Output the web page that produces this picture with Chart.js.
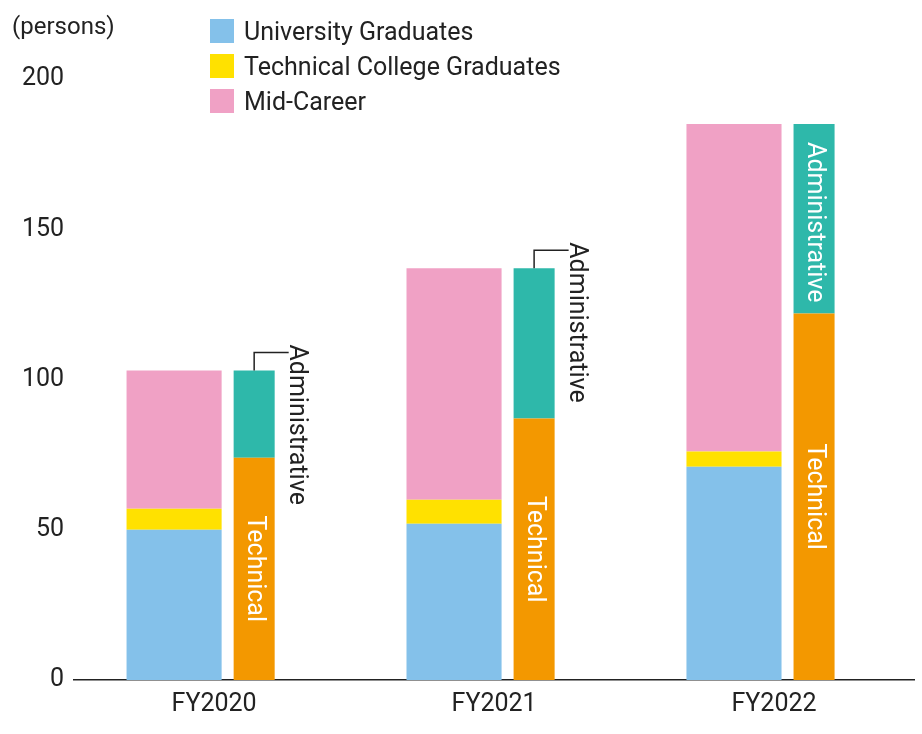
<!DOCTYPE html>
<html>
<head>
<meta charset="utf-8">
<script src="https://cdn.jsdelivr.net/npm/chart.js@4"></script>
<style>
  body { margin: 0; background: #fff; font-family: Roboto, sans-serif; }
  #wrap { position: relative; width: 922px; height: 734px; }
  #unit { position: absolute; left: 12px; top: 12px; font-size: 24px; color: #222; }
  #legend { position: absolute; left: 210px; top: 14px; font-size: 25px; color: #222; line-height: 35px; }
  #legend span.box { display: inline-block; width: 24px; height: 24px; margin-right: 10px; vertical-align: -3px; }
</style>
</head>
<body>
<div id="wrap">
  <canvas id="hires" width="922" height="734"></canvas>
  <div id="unit">(persons)</div>
  <div id="legend">
    <div><span class="box" style="background:#84c1ea"></span>University Graduates</div>
    <div><span class="box" style="background:#ffe100"></span>Technical College Graduates</div>
    <div><span class="box" style="background:#f0a1c5"></span>Mid-Career</div>
  </div>
</div>
<script>
const years = ['FY2020', 'FY2021', 'FY2022'];
const university = [50, 52, 71];
const techCollege = [7, 8, 5];
const midCareer = [46, 77, 109];
const technical = [74, 87, 122];
const administrative = [29, 50, 63];
const yTicks = [0, 50, 100, 150, 200];

const ctx = document.getElementById('hires');

// vertical labels on the job-type bars
const barText = {
  id: 'barText',
  afterDatasetsDraw(chart) {
    const c = chart.ctx;
    const techMeta = chart.getDatasetMeta(3);
    const adminMeta = chart.getDatasetMeta(4);
    c.save();
    c.font = '25px Roboto, sans-serif';
    c.textBaseline = 'middle';
    techMeta.data.forEach(function(bar) {
      c.save();
      c.translate(bar.x, (bar.y + bar.base) / 2);
      c.rotate(Math.PI / 2);
      c.fillStyle = '#fff';
      c.textAlign = 'center';
      c.fillText('Technical', 0, 0);
      c.restore();
    });
    adminMeta.data.forEach(function(bar, i) {
      const inside = i === adminMeta.data.length - 1;
      c.save();
      if (inside) {
        c.translate(bar.x, bar.y + 18);
        c.fillStyle = '#fff';
      } else {
        const lx = bar.x + bar.width / 2 + 22;
        c.strokeStyle = '#222';
        c.lineWidth = 1.5;
        c.beginPath();
        c.moveTo(bar.x, bar.y);
        c.lineTo(bar.x, bar.y - 18);
        c.lineTo(lx - 8, bar.y - 18);
        c.stroke();
        c.translate(lx, bar.y - 26);
        c.fillStyle = '#222';
      }
      c.rotate(Math.PI / 2);
      c.textAlign = 'left';
      c.fillText('Administrative', 0, 0);
      c.restore();
    });
    c.restore();
  }
};

new Chart(ctx, {
  type: 'bar',
  data: {
    labels: years,
    datasets: [
      { label: 'University Graduates', data: university, backgroundColor: '#84c1ea', stack: 'a', barPercentage: 1.1875 },
      { label: 'Technical College Graduates', data: techCollege, backgroundColor: '#ffe100', stack: 'a', barPercentage: 1.1875 },
      { label: 'Mid-Career', data: midCareer, backgroundColor: '#f0a1c5', stack: 'a', barPercentage: 1.1875 },
      { label: 'Technical', data: technical, backgroundColor: '#f39800', stack: 'b', barPercentage: 0.5125 },
      { label: 'Administrative', data: administrative, backgroundColor: '#2eb8aa', stack: 'b', barPercentage: 0.5125 }
    ]
  },
  options: {
    responsive: false,
    animation: false,
    layout: { padding: { top: 79, right: 8, left: 12, bottom: 4 } },
    categoryPercentage: 0.572,
    plugins: { legend: { display: false }, tooltip: { enabled: false } },
    scales: {
      x: {
        stacked: true,
        grid: { display: false, drawTicks: false },
        border: { color: '#222', width: 1.5 },
        ticks: { color: '#222', font: { size: 25, family: 'Roboto' }, padding: 10 }
      },
      y: {
        stacked: true,
        min: 0, max: 200,
        afterBuildTicks(axis) { axis.ticks = yTicks.map(v => ({ value: v })); },
        grid: { display: false, drawTicks: false },
        border: { display: false },
        ticks: { color: '#222', font: { size: 25, family: 'Roboto' }, padding: 10 }
      }
    }
  },
  plugins: [barText]
});
</script>
</body>
</html>
